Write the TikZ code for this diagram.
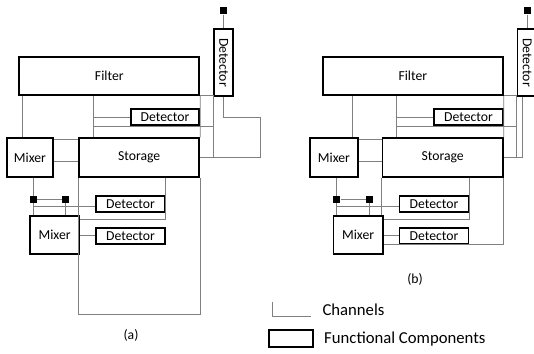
\documentclass[tikz,border=0pt]{standalone}
\usepackage{fontspec}
\setmainfont{Carlito}
\usepackage{graphicx}
\usetikzlibrary{calc}

\tikzset{
	comp/.style = {draw, line width = 1.8pt, inner sep = 0pt},
	chan/.style = {draw = black!50, line width = 0.9pt},
	pad/.style = {fill = black, inner sep = 0pt, minimum size = 7pt}
}

\begin{document}
\begin{tikzpicture}[x=1pt, y=-1pt, font=\fontsize{13.7}{16}\selectfont]
		
		\useasboundingbox (0,0) rectangle (534,353);
		\clip (0,0) rectangle (534,353);
		
		\node[comp, minimum width = 180pt, minimum height = 38.3pt] (filterA) at (109.3,75.85) {Filter};
		\node[comp, minimum width = 19.3pt, minimum height = 66.4pt] (detTopA) at (223.65,62.5) {\rotatebox{-90}{Detector}};
		\node[pad] (padTopA) at (223.65,11) {};
		\node[comp, minimum width = 68.6pt, minimum height = 16.6pt] (detMidA) at (165,117) {Detector};
		\node[comp, minimum width = 46.6pt, minimum height = 38.4pt] (mixTopA) at (30,157.5) {Mixer};
		\node[comp, minimum width = 120.3pt, minimum height = 38.4pt] (storeA) at (139.15,157.5) {Storage};
		\node[pad] (padLA) at (33.3,199.3) {};
		\node[pad] (padRA) at (65.7,199.3) {};
		\node[comp, minimum width = 69pt, minimum height = 16pt] (detUpA) at (130.5,203.7) {Detector};
		\node[comp, minimum width = 69pt, minimum height = 16.3pt] (detLowA) at (130.5,235.85) {Detector};
		\node[comp, minimum width = 49.3pt, minimum height = 38.6pt] (mixLowA) at (54.65,235) {Mixer};
		
		\coordinate (tapA) at ([yshift=-3pt]detUpA.west);
		\coordinate (midA) at ($(detUpA.south east)!.5!(detLowA.north east)$);
		
		\draw[chan] (padTopA) -- (detTopA.north);
		\draw[chan] ([xshift=4pt]filterA.south west) -- ([xshift=4pt]filterA.south west |- mixTopA.north);
		\draw[chan] ([xshift=75pt]filterA.south west) -- ([xshift=75pt]filterA.south west |- storeA.north);
		\draw[chan] ([xshift=75pt]filterA.south west |- detMidA.west) -- (detMidA.west);
		\draw[chan] ([xshift=75pt]filterA.south west |- detMidA.south) -- (detMidA.south -| detTopA.west);
		\draw[chan] (filterA.south east) -- (storeA.north east);
		\draw[chan] (filterA.south east) -- (filterA.south east -| detTopA.west) -- (detTopA.west |- storeA.east);
		\draw[chan] (storeA.east) -| ([xshift=26pt]detTopA.east |- detMidA) -| (detTopA.south);
		\draw[chan] ([yshift=-1.7pt]mixTopA.north east) -- ([yshift=-1.7pt]storeA.north west);
		\draw[chan] ([yshift=-3.5pt]mixTopA.east) -- ([yshift=-3.5pt]storeA.west);
		
		\draw[chan] (padLA |- mixTopA.south) -- (padLA);
		\draw[chan] (padLA) -- (padRA);
		\draw[chan] (padLA) -- (padLA |- mixLowA.north);
		\draw[chan] (padRA) -- (padRA |- mixLowA.north);
		\draw[chan] (padLA |- tapA) -- (tapA);
		\draw[chan] (storeA.south west) -- ++(0,136.6) -| (storeA.south east);
		\draw[chan] (detUpA.east |- storeA.south) -- (midA) -- (mixLowA.east |- midA);
		\draw[chan] (mixLowA.east) -- (mixLowA.east -| detLowA.west);
		
		\node (capA) at (131,335) {(a)};
		
		\begin{scope}[xshift=303.5pt]
			
			\node[comp, minimum width = 180pt, minimum height = 38.3pt] (filterB) at (109.3,75.85) {Filter};
			\node[comp, minimum width = 19.3pt, minimum height = 66.4pt] (detTopB) at (223.65,62.5) {\rotatebox{-90}{Detector}};
			\node[pad] (padTopB) at (223.65,11) {};
			\node[comp, minimum width = 68.6pt, minimum height = 16.6pt] (detMidB) at (165,117) {Detector};
			\node[comp, minimum width = 47.6pt, minimum height = 38.4pt] (mixTopB) at (30.5,157.5) {Mixer};
			\node[comp, minimum width = 120.3pt, minimum height = 38.4pt] (storeB) at (139.15,157.5) {Storage};
			\node[pad] (padLB) at (33.3,199.3) {};
			\node[pad] (padRB) at (65.7,199.3) {};
			\node[comp, minimum width = 69pt, minimum height = 16pt] (detUpB) at (130.5,203.7) {Detector};
			\node[comp, minimum width = 69pt, minimum height = 16.3pt] (detLowB) at (130.5,235.85) {Detector};
			\node[comp, minimum width = 49.3pt, minimum height = 38.6pt] (mixLowB) at (54.65,235) {Mixer};
			
			\coordinate (tapB) at ([yshift=-3pt]detUpB.west);
			\coordinate (midB) at ($(detUpB.south east)!.5!(detLowB.north east)$);
			
			\draw[chan] (padTopB) -- (detTopB.north);
			\draw[chan] ([xshift=30.5pt]filterB.south west) -- ([xshift=30.5pt]filterB.south west |- mixTopB.north);
			\draw[chan] ([xshift=75pt]filterB.south west) -- ([xshift=75pt]filterB.south west |- storeB.north);
			\draw[chan] ([xshift=75pt]filterB.south west |- detMidB.west) -- (detMidB.west);
			\draw[chan] ([xshift=75pt]filterB.south west |- detMidB.south) -- (detMidB.south -| detTopB.west);
			\draw[chan] (filterB.south east) -- (storeB.north east);
			\draw[chan] (filterB.south east) -- (filterB.south east -| detTopB.west) -- (detTopB.west |- storeB.east);
			\draw[chan] (storeB.east) -| ([xshift=6pt]detTopB.south west);
			\draw[chan] ([yshift=-1.7pt]mixTopB.north east) -- ([yshift=-1.7pt]storeB.north west);
			\draw[chan] ([yshift=-3.5pt]mixTopB.east) -- ([yshift=-3.5pt]storeB.west);
			
			\draw[chan] (padLB |- mixTopB.south) -- (padLB);
			\draw[chan] (padLB) -- (padRB);
			\draw[chan] (padLB) -- (padLB |- mixLowB.north);
			\draw[chan] (padRB) -- (padRB |- mixLowB.north);
			\draw[chan] (padLB |- tapB) -- (tapB);
			\draw[chan] (storeB.south west) -- (storeB.south west |- mixLowB.north);
			\draw[chan] (detUpB.east |- storeB.south) -- (midB) -- (mixLowB.east |- midB);
			\draw[chan] (mixLowB.east) -- (mixLowB.east -| detLowB.west);
			\draw[chan] (mixLowB.east |- detLowB.south west) -| (storeB.south east);
			
			\node (capB) at (111.5,279) {(b)};
			
		\end{scope}
		
		\coordinate (chanTop) at (272.7,301.7);
		\coordinate (chanEnd) at (310.7,316);
		\draw[chan] (chanTop) |- (chanEnd);
		\node[anchor=west, font=\fontsize{16.7}{20}\selectfont] (chanText) at (319,309.3) {Channels};
		
		\node[comp, minimum width = 44pt, minimum height = 16.7pt] (compKey) at (291.3,338.35) {};
		\node[anchor=west, font=\fontsize{16.7}{20}\selectfont] (compText) at (320.7,339) {Functional Components};
		
	\end{tikzpicture}
\end{document}
